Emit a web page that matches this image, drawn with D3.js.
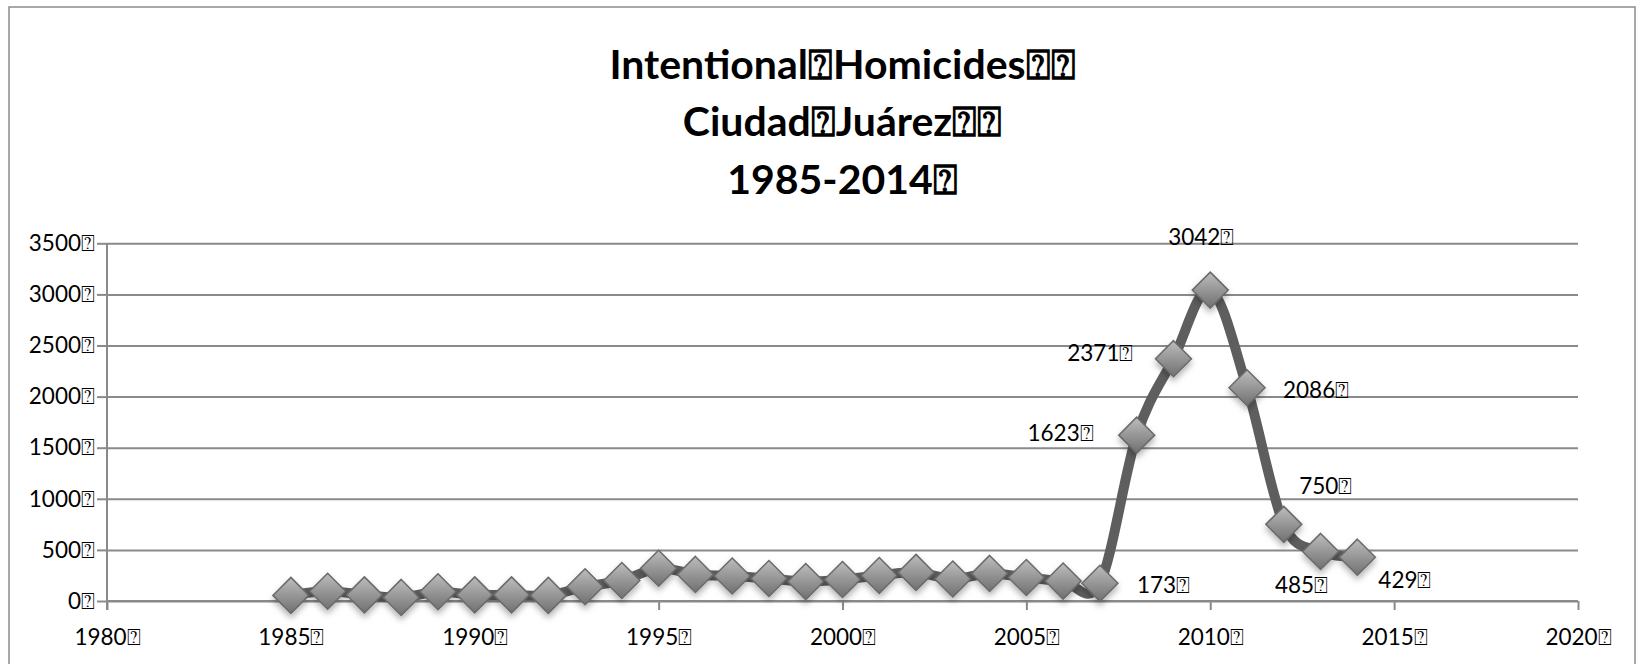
<!DOCTYPE html>
<html>
<head>
<meta charset="utf-8">
<script src="https://cdn.jsdelivr.net/npm/d3@7"></script>
<style>
  html, body { margin: 0; padding: 0; background: #fff; }
  svg { display: block; }
</style>
</head>
<body>
<svg id="chart" width="1641" height="664"></svg>
<script>
// ---- data ----
const years = [1985, 1986, 1987, 1988, 1989, 1990, 1991, 1992, 1993, 1994,
               1995, 1996, 1997, 1998, 1999, 2000, 2001, 2002, 2003, 2004,
               2005, 2006, 2007, 2008, 2009, 2010, 2011, 2012, 2013, 2014];
const homicides = [55, 95, 60, 35, 90, 60, 60, 55, 140, 200,
                   320, 260, 245, 220, 190, 210, 250, 280, 215, 270,
                   230, 195, 173, 1623, 2371, 3042, 2086, 750, 485, 429];
const labelledYears = [2007, 2008, 2009, 2010, 2011, 2012, 2013, 2014];
const yTicks = [0, 500, 1000, 1500, 2000, 2500, 3000, 3500];
const xTicks = [1980, 1985, 1990, 1995, 2000, 2005, 2010, 2015, 2020];
const titleLines = ["Intentional\u2370Homicides\u2370\u2370", "Ciudad\u2370Juárez\u2370\u2370", "1985-2014\u2370"];
const BOX = "\u2370";

(function () {
// ---- layout ----
const svg = d3.select("#chart");
const pL = 107, pR = 1578, pT = 243.3, pB = 601;
const x = d3.scaleLinear().domain([1980, 2020]).range([pL, pR]);
const y = d3.scaleLinear().domain([0, 3500]).range([pB, pT]);
const gridColor = "#8a8a8a";
const font = "Lato, 'Open Sans', sans-serif";

// outer border
svg.append("rect").attr("x", 9).attr("y", 7).attr("width", 1626).attr("height", 720)
  .attr("fill", "none").attr("stroke", "#8c8c8c").attr("stroke-width", 1.5);

// defs
const defs = svg.append("defs");
const grad = defs.append("linearGradient").attr("id", "dgrad")
  .attr("x1", "0").attr("y1", "0").attr("x2", "0").attr("y2", "1");
grad.append("stop").attr("offset", "0%").attr("stop-color", "#bdbdbd");
grad.append("stop").attr("offset", "45%").attr("stop-color", "#9a9a9a");
grad.append("stop").attr("offset", "100%").attr("stop-color", "#707070");
const filt = defs.append("filter").attr("id", "shadow")
  .attr("x", "-50%").attr("y", "-50%").attr("width", "200%").attr("height", "200%");
filt.append("feDropShadow").attr("dx", 0).attr("dy", 4).attr("stdDeviation", 3)
  .attr("flood-color", "#000").attr("flood-opacity", 0.3);

// gridlines
svg.append("g").attr("transform", `translate(${pL},0)`)
  .call(d3.axisLeft(y).tickValues(yTicks).tickSize(-(pR - pL)).tickFormat(""))
  .call(g => g.select(".domain").remove())
  .call(g => g.selectAll("line").attr("stroke", gridColor).attr("stroke-width", 2));

// y axis
svg.append("g").attr("transform", `translate(${pL},0)`)
  .call(d3.axisLeft(y).tickValues(yTicks).tickSize(10).tickPadding(2).tickFormat(d => d + BOX))
  .call(g => g.select(".domain").remove())
  .call(g => g.selectAll("line").attr("stroke", gridColor).attr("stroke-width", 2))
  .call(g => g.selectAll("text").attr("fill", "#000").attr("font-size", 22.5).attr("font-family", font));

// x axis
svg.append("g").attr("transform", `translate(0,${pB})`)
  .call(d3.axisBottom(x).tickValues(xTicks).tickSize(9).tickPadding(19).tickFormat(d => d + BOX))
  .call(g => g.select(".domain").remove())
  .call(g => g.selectAll("line").attr("stroke", gridColor).attr("stroke-width", 2))
  .call(g => g.selectAll("text").attr("fill", "#000").attr("font-size", 22.5).attr("font-family", font));

// axis lines
svg.append("line").attr("x1", pL).attr("x2", pL).attr("y1", pT).attr("y2", pB + 9)
  .attr("stroke", gridColor).attr("stroke-width", 2);
svg.append("line").attr("x1", pL).attr("x2", pR).attr("y1", pB).attr("y2", pB)
  .attr("stroke", gridColor).attr("stroke-width", 2);

// title
const title = svg.append("text").attr("text-anchor", "middle")
  .attr("font-family", font).attr("font-weight", "bold").attr("font-size", 41).attr("fill", "#000");
const titleBaselines = [79, 136, 194];
titleLines.forEach((t, i) => {
  title.append("tspan").attr("x", (pL + pR) / 2).attr("y", titleBaselines[i]).text(t);
});

// series
const data = years.map((yr, i) => ({ year: yr, value: homicides[i] }));
const line = d3.line().x(d => x(d.year)).y(d => y(d.value)).curve(d3.curveCardinal.tension(0));
svg.append("path").datum(data).attr("d", line)
  .attr("fill", "none").attr("stroke", "#5e5e5e").attr("stroke-width", 10)
  .attr("stroke-linejoin", "round").attr("stroke-linecap", "round");

const r = 18;
svg.append("g").selectAll("path").data(data).join("path")
  .attr("d", d => `M${x(d.year)},${y(d.value) - r}L${x(d.year) + r},${y(d.value)}L${x(d.year)},${y(d.value) + r}L${x(d.year) - r},${y(d.value)}Z`)
  .attr("fill", "url(#dgrad)").attr("stroke", "#6a6a6a").attr("stroke-width", 1.5)
  .attr("filter", "url(#shadow)");

// data labels
const labelPlacement = {
  2007: { dx: 37, dy: 10, anchor: "start" },
  2008: { dx: -43, dy: 6, anchor: "end" },
  2009: { dx: -40, dy: 2, anchor: "end" },
  2010: { dx: -9, dy: -45, anchor: "middle" },
  2011: { dx: 36, dy: 10, anchor: "start" },
  2012: { dx: 42, dy: -30, anchor: "middle" },
  2013: { dx: -19, dy: 42, anchor: "middle" },
  2014: { dx: 21, dy: 31, anchor: "start" }
};
svg.append("g").selectAll("text").data(data.filter(d => labelledYears.includes(d.year))).join("text")
  .attr("x", d => x(d.year) + labelPlacement[d.year].dx)
  .attr("y", d => y(d.value) + labelPlacement[d.year].dy)
  .attr("text-anchor", d => labelPlacement[d.year].anchor)
  .attr("font-family", font).attr("font-size", 22.5).attr("fill", "#000")
  .text(d => d.value + BOX);
})();
</script>
</body>
</html>
